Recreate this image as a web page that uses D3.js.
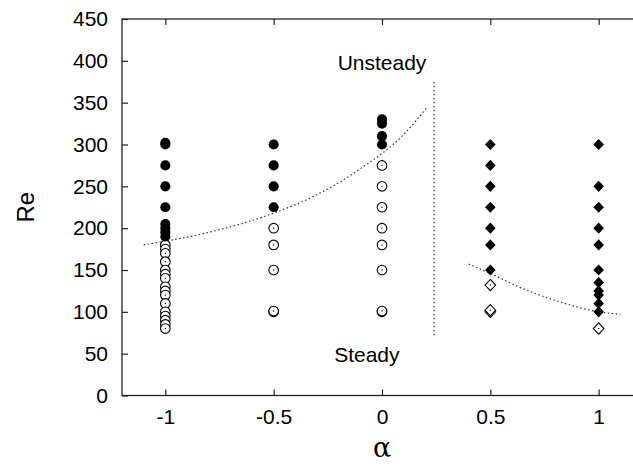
<!DOCTYPE html>
<html>
<head>
<meta charset="utf-8">
<script src="https://cdn.jsdelivr.net/npm/d3@7"></script>
<style>
  body { margin: 0; background: #fff; }
  svg { display: block; }
  .tick text { font-family: "Liberation Sans", Arial, sans-serif; font-size: 21px; fill: #000; }
  .label { font-family: "Liberation Sans", Arial, sans-serif; fill: #000; }
</style>
</head>
<body>
<div id="chart"></div>
<script>
// values: [alpha, Re]
var alphaTicks = [-1, -0.5, 0, 0.5, 1];
var reTicks = [0, 50, 100, 150, 200, 250, 300, 350, 400, 450];

var filledCircles = [
    [-1, 302], [-1, 300], [-1, 275], [-1, 250], [-1, 225], [-1, 205], [-1, 200], [-1, 195], [-1, 190],
    [-0.5, 300], [-0.5, 275], [-0.5, 250], [-0.5, 225],
    [0, 330], [0, 325], [0, 310], [0, 300]
];
var openCircles = [
    [-1, 180], [-1, 175], [-1, 170], [-1, 160], [-1, 150], [-1, 145], [-1, 140], [-1, 130],
    [-1, 125], [-1, 120], [-1, 110], [-1, 100], [-1, 95], [-1, 90], [-1, 85], [-1, 80],
    [-0.5, 200], [-0.5, 180], [-0.5, 150], [-0.5, 100], [-0.5, 101],
    [0, 275], [0, 250], [0, 225], [0, 200], [0, 180], [0, 150], [0, 100], [0, 101]
];
var filledDiamonds = [
    [0.5, 300], [0.5, 275], [0.5, 250], [0.5, 225], [0.5, 200], [0.5, 180], [0.5, 150],
    [1, 300], [1, 250], [1, 225], [1, 200], [1, 180], [1, 150], [1, 135], [1, 125], [1, 120], [1, 110], [1, 100]
];
var openDiamonds = [[0.5, 132], [0.5, 100], [0.5, 102], [1, 80]];

// stability boundaries (dotted)
var boundaryLeft = [[-1.1, 180], [-0.8, 195], [-0.5, 218], [-0.3, 240], [-0.1, 271], [0.1, 312], [0.21, 345]];
var boundaryVert = [[0.24, 72], [0.24, 378]];
var boundaryRight = [[0.4, 157], [0.5, 146], [0.63, 130], [0.82, 112], [1.0, 100], [1.1, 97]];

var W = 633, H = 468;
var margin = {top: 19, left: 122};
var plotW = 520, plotH = 376.5;   // right edge falls just outside the picture

var svg = d3.select("#chart").append("svg").attr("width", W).attr("height", H);
var g = svg.append("g").attr("transform", "translate(" + margin.left + "," + margin.top + ")");

var x = d3.scaleLinear().domain([-1.2, 1.2]).range([0, plotW]);
var y = d3.scaleLinear().domain([0, 450]).range([plotH, 0]);

// frame
g.append("rect").attr("width", plotW).attr("height", plotH)
    .attr("fill", "none").attr("stroke", "#222").attr("stroke-width", 1.3);

// axes, ticks pointing inward
var xAxis = d3.axisBottom(x).tickValues(alphaTicks).tickSize(-6).tickPadding(14)
    .tickFormat(function (d) { return String(d); });
var xTop = d3.axisTop(x).tickValues(alphaTicks).tickSize(-6).tickFormat("");
var yAxis = d3.axisLeft(y).tickValues(reTicks).tickSize(-6).tickPadding(14);

g.append("g").attr("transform", "translate(0," + plotH + ")").call(xAxis);
g.append("g").call(xTop);
g.append("g").call(yAxis);
g.selectAll(".domain").remove();
g.selectAll(".tick line").attr("stroke", "#222").attr("stroke-width", 1.2);

// dotted boundaries
var line = d3.line().x(function (d) { return x(d[0]); }).y(function (d) { return y(d[1]); });
[boundaryLeft, boundaryRight].forEach(function (b) {
    g.append("path").datum(b).attr("d", line.curve(d3.curveMonotoneX))
        .attr("fill", "none").attr("stroke", "#333").attr("stroke-width", 1.2).attr("stroke-dasharray", "1.5,2.5");
});
g.append("path").datum(boundaryVert).attr("d", line.curve(d3.curveLinear))
    .attr("fill", "none").attr("stroke", "#333").attr("stroke-width", 1.2).attr("stroke-dasharray", "1.5,2.5");

// markers
var circleSym = d3.symbol().type(d3.symbolCircle).size(80);
var diamondPath = "M0,-5.6L5.3,0L0,5.6L-5.3,0Z";
function pos(d) { return "translate(" + x(d[0]) + "," + y(d[1]) + ")"; }

g.selectAll(".oc").data(openCircles).enter().append("g").attr("class", "oc").attr("transform", pos)
    .each(function () {
        var s = d3.select(this);
        s.append("circle").attr("r", 4.8).attr("fill", "#fff").attr("stroke", "#000").attr("stroke-width", 1.1);
        s.append("circle").attr("r", 0.7).attr("fill", "#000");
    });
g.selectAll(".fc").data(filledCircles).enter().append("path").attr("class", "fc")
    .attr("transform", pos).attr("d", circleSym).attr("fill", "#000");

g.selectAll(".od").data(openDiamonds).enter().append("g").attr("class", "od").attr("transform", pos)
    .each(function () {
        var s = d3.select(this);
        s.append("path").attr("d", diamondPath).attr("fill", "#fff").attr("stroke", "#000").attr("stroke-width", 1.1);
        s.append("circle").attr("r", 0.7).attr("fill", "#000");
    });
g.selectAll(".fd").data(filledDiamonds).enter().append("path").attr("class", "fd")
    .attr("transform", pos).attr("d", diamondPath).attr("fill", "#000");

// region labels
g.append("text").attr("class", "label").attr("x", x(0)).attr("y", y(389))
    .attr("text-anchor", "middle").style("font-size", "21px").text("Unsteady");
g.append("text").attr("class", "label").attr("x", x(-0.07)).attr("y", y(40))
    .attr("text-anchor", "middle").style("font-size", "21px").text("Steady");

// axis titles
svg.append("text").attr("class", "label")
    .attr("transform", "translate(34," + (margin.top + y(225)) + ") rotate(-90)")
    .attr("text-anchor", "middle").style("font-size", "24px").text("Re");
svg.append("text").attr("class", "label").attr("x", margin.left + x(0)).attr("y", 457)
    .attr("text-anchor", "middle").style("font-family", "'DejaVu Serif', serif").style("font-size", "27px").text("α");
</script>
</body>
</html>
